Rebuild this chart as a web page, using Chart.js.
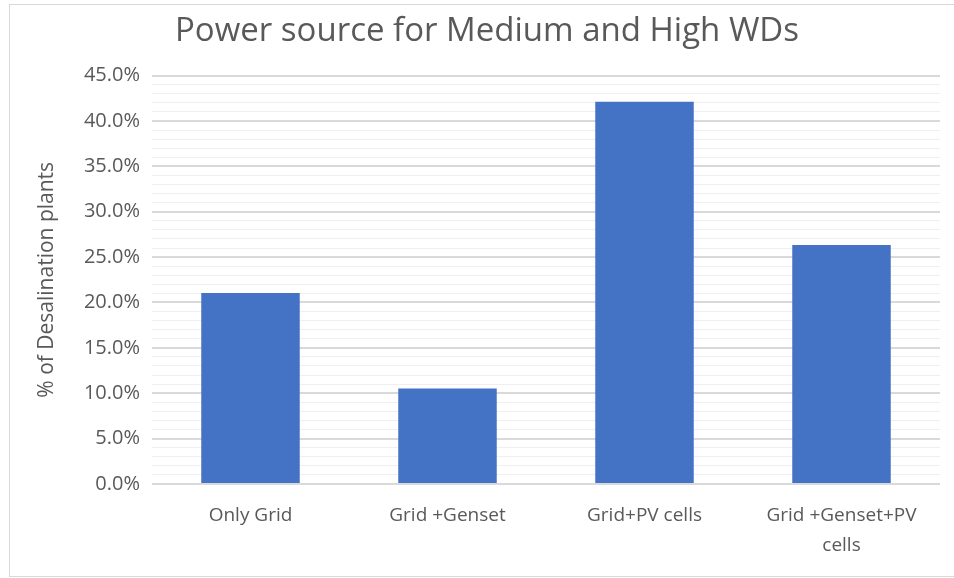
<!DOCTYPE html>
<html>
<head>
<meta charset="utf-8">
<style>
  html, body { margin: 0; padding: 0; background: #fff; }
  #wrap { position: relative; width: 954px; height: 578px; }
  #frame { position: absolute; left: 9px; top: 4px; width: 960px; height: 571px; border: 1px solid #d9d9d9; }
  canvas { position: absolute; left: 0; top: 0; }
</style>
<script src="https://cdn.jsdelivr.net/npm/chart.js"></script>
</head>
<body>
<div id="wrap">
  <div id="frame"></div>
  <canvas id="powerChart" width="954" height="578"></canvas>
</div>
<script>
  // data (share of 19 plants)
  const categories = ['Only Grid', 'Grid +Genset', 'Grid+PV cells', ['Grid +Genset+PV', 'cells']];
  const plantShare = [21.05, 10.53, 42.11, 26.32];
  const yTicks = [0, 5, 10, 15, 20, 25, 30, 35, 40, 45];

  const textGrey = '#595959';
  const ctx = document.getElementById('powerChart').getContext('2d');
  const chart = new Chart(ctx, {
    type: 'bar',
    data: {
      labels: categories,
      datasets: [{
        label: '% of Desalination plants',
        data: plantShare,
        backgroundColor: '#4472C4',
        borderWidth: 0,
        barPercentage: 0.5,
        categoryPercentage: 1
      }]
    },
    options: {
      responsive: false,
      animation: false,
      layout: { padding: { left: 34, right: 14, top: 12, bottom: 8 } },
      plugins: {
        legend: { display: false },
        tooltip: { enabled: false },
        title: {
          display: true,
          text: 'Power source for Medium and High WDs',
          color: textGrey,
          font: { family: 'Open Sans', size: 33, weight: 'normal' },
          padding: { top: 0, bottom: 24 }
        }
      },
      scales: {
        x: {
          grid: { display: false },
          border: { display: false },
          ticks: {
            color: textGrey,
            font: { family: 'Open Sans', size: 19, lineHeight: 1.58 },
            padding: 9,
            maxRotation: 0
          }
        },
        y: {
          min: 0,
          max: 45,
          border: { display: false },
          afterFit: s => { s.width = 118; },
          grid: {
            drawTicks: false,
            color: c => (yTicks.includes(c.tick.value) ? '#d9d9d9' : '#efefef'),
            lineWidth: c => (yTicks.includes(c.tick.value) ? 2 : 1)
          },
          ticks: {
            stepSize: 1,
            autoSkip: false,
            padding: 12,
            color: textGrey,
            font: { family: 'Open Sans', size: 20 },
            callback: v => (yTicks.includes(v) ? v.toFixed(1) + '%' : '')
          },
          title: {
            display: true,
            text: '% of Desalination plants',
            color: textGrey,
            font: { family: 'Open Sans', size: 21 },
            padding: { top: 0, bottom: 0 }
          }
        }
      }
    }
  });
</script>
</body>
</html>
